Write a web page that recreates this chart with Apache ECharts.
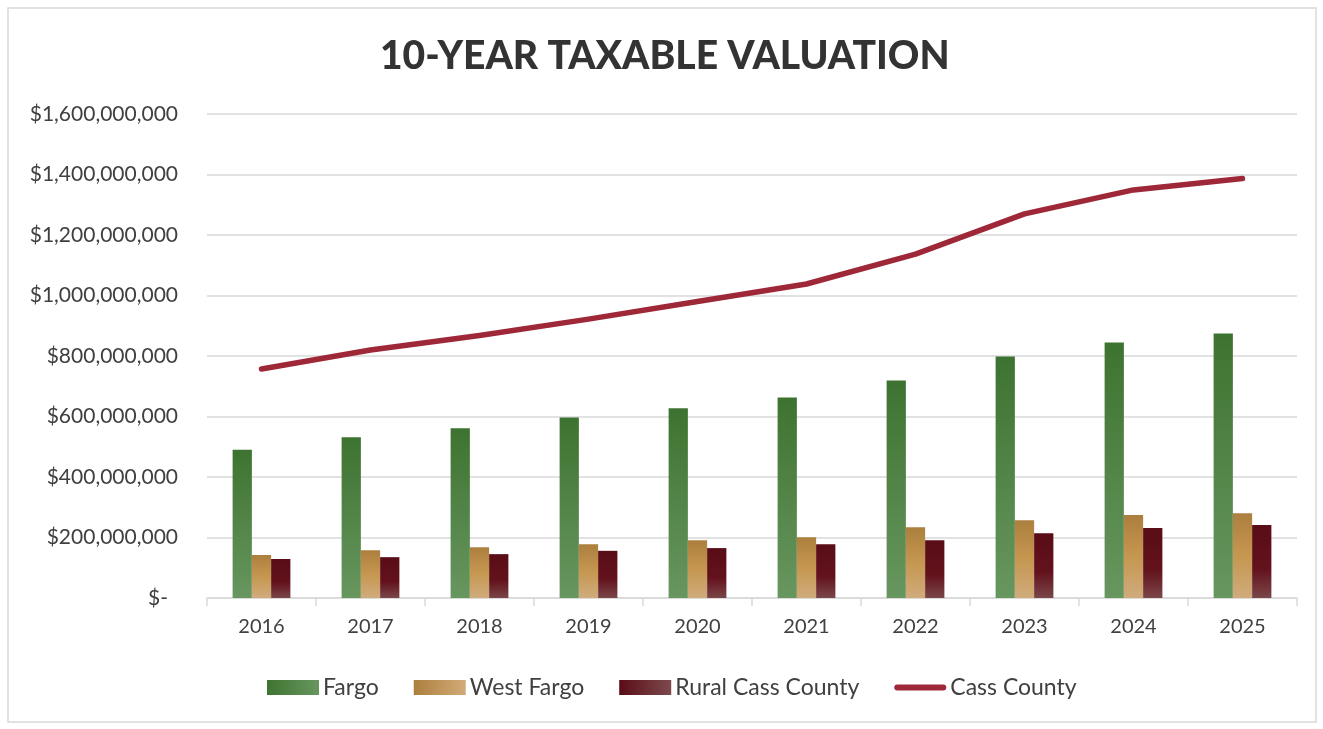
<!DOCTYPE html>
<html>
<head>
<meta charset="utf-8">
<script src="https://cdn.jsdelivr.net/npm/echarts@6/dist/echarts.min.js"></script>
<style>
  html, body { margin: 0; padding: 0; background: #fff; }
  #chart { width: 1323px; height: 729px; }
</style>
</head>
<body>
<div id="chart"></div>
<script>
const years = ['2016', '2017', '2018', '2019', '2020', '2021', '2022', '2023', '2024', '2025'];
const fargo = [490e6, 531e6, 561e6, 597e6, 627e6, 663e6, 719e6, 798e6, 845e6, 874e6];
const westFargo = [142e6, 158e6, 168e6, 178e6, 191e6, 201e6, 234e6, 257e6, 274e6, 280e6];
const ruralCass = [129e6, 135e6, 145e6, 156e6, 165e6, 178e6, 191e6, 214e6, 231e6, 241e6];
const cassCounty = [757e6, 820e6, 868e6, 922e6, 980e6, 1038e6, 1137e6, 1270e6, 1349e6, 1387e6];

const FONT = 'Lato';
const TEXT = '#404040';

const vGrad = (a, b) => new echarts.graphic.LinearGradient(0, 0, 0, 1, [
  {offset: 0, color: a}, {offset: 1, color: b}
]);
const hGrad = (a, b) => new echarts.graphic.LinearGradient(0, 0, 1, 0, [
  {offset: 0, color: a}, {offset: 1, color: b}
]);

const money = (v) => {
  if (v === 0) return '{z|$-}';
  return '$' + v.toLocaleString('en-US');
};

const chart = echarts.init(document.getElementById('chart'));

chart.setOption({
  backgroundColor: '#fff',
  animation: false,
  textStyle: {fontFamily: FONT},
  graphic: [{
    type: 'rect',
    shape: {x: 8, y: 8, width: 1308, height: 714},
    style: {fill: 'none', stroke: '#d9d9d9', lineWidth: 1.5},
    silent: true
  }],
  title: {
    text: '10-YEAR TAXABLE VALUATION',
    left: 380,
    top: 37,
    padding: 0,
    textStyle: {fontFamily: FONT, fontSize: 39, fontWeight: 900, color: '#333333'}
  },
  grid: {left: 207, right: 26, top: 114, bottom: 131},
  legend: {
    left: 267,
    top: 676,
    padding: 0,
    itemWidth: 52,
    itemHeight: 15,
    itemGap: 35,
    textStyle: {fontFamily: FONT, fontSize: 23, color: TEXT, padding: [0, 0, 0, -1]},
    data: [
      {name: 'Fargo', icon: 'rect', itemStyle: {color: hGrad('#3e7431', '#68965f')}},
      {name: 'West Fargo', icon: 'rect', itemStyle: {color: hGrad('#ad7f3e', '#d2ab78')}},
      {name: 'Rural Cass County', icon: 'rect', itemStyle: {color: hGrad('#5a0d16', '#7d4a4d')}},
      {
        name: 'Cass County',
        icon: 'path://M3,0 H49 A3,3 0 0 1 49,6 H3 A3,3 0 0 1 3,0 Z',
        itemStyle: {color: '#9e2838', borderWidth: 0}
      }
    ]
  },
  xAxis: {
    type: 'category',
    data: years,
    axisLine: {lineStyle: {color: '#d9d9d9', width: 1.5}},
    axisTick: {show: true, length: 8, lineStyle: {color: '#d9d9d9', width: 1.5}},
    axisLabel: {fontFamily: FONT, fontSize: 20, color: TEXT, margin: 19}
  },
  yAxis: {
    type: 'value',
    min: 0,
    max: 1600000000,
    interval: 200000000,
    axisLine: {show: false},
    axisTick: {show: false},
    splitLine: {lineStyle: {color: '#d9d9d9', width: 1.5}},
    axisLabel: {
      fontFamily: FONT, fontSize: 21, color: TEXT, margin: 29,
      formatter: money,
      rich: {z: {fontFamily: FONT, fontSize: 21, color: TEXT, padding: [0, 10, 0, 0]}}
    }
  },
  series: [
    {
      name: 'Fargo',
      type: 'bar',
      data: fargo,
      barGap: '0%',
      barCategoryGap: '47%',
      itemStyle: {color: vGrad('#3d7330', '#68965f')}
    },
    {
      name: 'West Fargo',
      type: 'bar',
      data: westFargo,
      itemStyle: {color: new echarts.graphic.LinearGradient(0, 0, 0, 1, [
        {offset: 0, color: '#ad7f3e'}, {offset: 0.5, color: '#c59750'}, {offset: 1, color: '#d0ab7c'}
      ])}
    },
    {
      name: 'Rural Cass County',
      type: 'bar',
      data: ruralCass,
      itemStyle: {color: new echarts.graphic.LinearGradient(0, 0, 0, 1, [
        {offset: 0, color: '#590d17'}, {offset: 0.6, color: '#63121c'}, {offset: 1, color: '#7a4649'}
      ])}
    },
    {
      name: 'Cass County',
      type: 'line',
      data: cassCounty,
      symbol: 'none',
      lineStyle: {color: '#9e2838', width: 5.5, cap: 'round', join: 'round'},
      itemStyle: {color: '#9e2838'},
      z: 5
    }
  ]
});
</script>
</body>
</html>
